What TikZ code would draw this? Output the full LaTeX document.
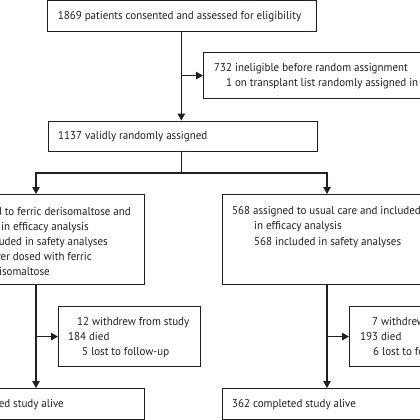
\documentclass[tikz,border=0pt]{standalone}
\usepackage{fontspec}
\setmainfont{PT Sans}[FakeStretch=0.955]
\usetikzlibrary{arrows.meta,positioning}
\definecolor{ink}{HTML}{231F20}
\begin{document}
\begin{tikzpicture}[x=1pt,y=-1pt,
  box/.style={draw=ink,line width=1.15pt,rectangle,inner sep=0pt,anchor=north west},
  txt/.style={inner sep=0pt,text=ink,font=\fontsize{11.5}{13}\selectfont},
  conn/.style={draw=ink,line width=1.15pt},
  arr/.style={conn,-{Triangle[width=7.5pt,length=7pt]}}]
\useasboundingbox (0,0) rectangle (420,420);
\clip (0,0) rectangle (420,420);
\fill[white] (0,0) rectangle (420,420);
% boxes
\node[box,minimum width=269.3pt,minimum height=31pt] (top) at (46.7,0.3) {};
\node[box,minimum width=240pt,minimum height=46pt] (excl) at (203,52) {};
\node[box,minimum width=269pt,minimum height=30.5pt] (rand) at (48,120.5) {};
\node[box,minimum width=216pt,minimum height=90pt] (la) at (-72,194) {};
\node[box,minimum width=210pt,minimum height=90pt] (ra) at (222,194) {};
\node[box,minimum width=142pt,minimum height=60pt] (lw) at (58,306) {};
\node[box,minimum width=142pt,minimum height=60pt] (rw) at (349,306) {};
\node[box,minimum width=216pt,minimum height=31.3pt] (lc) at (-72,388) {};
\node[box,minimum width=210pt,minimum height=31.3pt] (rc) at (222,388) {};
% texts
\node[txt,anchor=base west] (t1) at (57.7,20) {1869 patients consented and assessed for eligibility};
\node[txt,anchor=base west] (e1) at (214,71) {732 ineligible before random assignment};
\node[txt,anchor=base west] (e2) at (226,86) {1 on transplant list randomly assigned in error};
\node[txt,anchor=base west] (r1) at (58,139.5) {1137 validly randomly assigned};
\node[txt,anchor=base east] (la1) at (131,215) {569 assigned to ferric derisomaltose and};
\node[txt,anchor=base east] (la2) at (89,230) {included in efficacy analysis};
\node[txt,anchor=base east] (la3) at (108,245) {566 included in safety analyses};
\node[txt,anchor=base east] (la4) at (92,260) {3 never dosed with ferric};
\node[txt,anchor=base east] (la5) at (50,275) {derisomaltose};
\node[txt,anchor=base west] (ra1) at (232,214.5) {568 assigned to usual care and included};
\node[txt,anchor=base west] (ra2) at (254,229.5) {in efficacy analysis};
\node[txt,anchor=base west] (ra3) at (254,245) {568 included in safety analyses};
\node[txt,anchor=base west] (lw1) at (77,325) {12 withdrew from study};
\node[txt,anchor=base west] (lw2) at (68,340) {184 died};
\node[txt,anchor=base west] (lw3) at (82,355) {5 lost to follow-up};
\node[txt,anchor=base west] (rw1) at (372,325) {7 withdrew from study};
\node[txt,anchor=base west] (rw2) at (360,340) {193 died};
\node[txt,anchor=base west] (rw3) at (373,355) {6 lost to follow-up};
\node[txt,anchor=base east] (lc1) at (64,407) {368 completed study alive};
\node[txt,anchor=base west] (rc1) at (232,407) {362 completed study alive};
% connectors
\coordinate (tx) at (181.3,0);
\coordinate (split) at (181.3,173);
\coordinate (lx) at (36,0);
\coordinate (rx) at (327,0);
\draw[arr] (top.south -| tx) -- (rand.north -| tx);
\draw[arr] (tx |- excl.west) -- (excl.west);
\draw[conn] (rand.south -| tx) -- (split);
\draw[arr] (split) -| (la.north -| lx);
\draw[arr] (split) -| (ra.north -| rx);
\draw[arr] (la.south -| lx) -- (lc.north -| lx);
\draw[arr] (ra.south -| rx) -- (rc.north -| rx);
\draw[arr] (lx |- lw.west) -- (lw.west);
\draw[arr] (rx |- rw.west) -- (rw.west);
\end{tikzpicture}
\end{document}
